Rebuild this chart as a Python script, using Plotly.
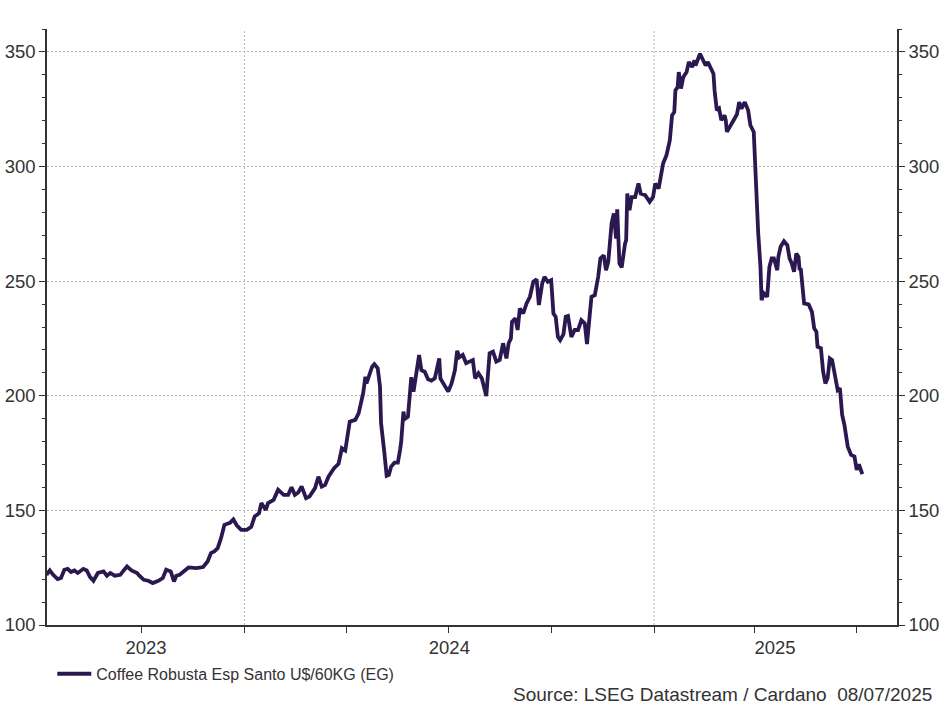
import plotly.graph_objects as go

# ---- data ----
D2023 = ["2023-07-08", "2023-07-11", "2023-07-14", "2023-07-18", "2023-07-21", "2023-07-24", "2023-07-27",
         "2023-07-30", "2023-08-02", "2023-08-05", "2023-08-10", "2023-08-13", "2023-08-16", "2023-08-19",
         "2023-08-23", "2023-08-28", "2023-08-31", "2023-09-03", "2023-09-07", "2023-09-12", "2023-09-15",
         "2023-09-18", "2023-09-22", "2023-09-27", "2023-09-29", "2023-10-03", "2023-10-07", "2023-10-11",
         "2023-10-16", "2023-10-20", "2023-10-23", "2023-10-27", "2023-10-30", "2023-11-01", "2023-11-04",
         "2023-11-09", "2023-11-12", "2023-11-19", "2023-11-25", "2023-11-29", "2023-12-02", "2023-12-05",
         "2023-12-08", "2023-12-11", "2023-12-14", "2023-12-19", "2023-12-22", "2023-12-25", "2023-12-29"]
P2023 = [121.9, 123.8, 121.9, 120.0, 120.5, 124.1, 124.5, 123.1, 123.8, 122.7, 124.5, 123.8, 120.9, 119.3,
         122.7, 123.4, 121.5, 122.7, 121.5, 121.9, 123.8, 125.5, 123.8, 122.7, 121.5, 119.7, 119.3, 118.3,
         119.3, 120.5, 124.1, 123.4, 119.0, 121.5, 121.9, 124.1, 125.1, 124.8, 125.3, 127.7, 131.4, 132.1,
         133.5, 137.9, 143.7, 144.6, 146.1, 143.5, 141.5]

D2024 = ["2024-01-03", "2024-01-07", "2024-01-10", "2024-01-14", "2024-01-16", "2024-01-20", "2024-01-22",
         "2024-01-27", "2024-01-31", "2024-02-05", "2024-02-09", "2024-02-12", "2024-02-15", "2024-02-18",
         "2024-02-21", "2024-02-25", "2024-02-28", "2024-03-04", "2024-03-07", "2024-03-10", "2024-03-13",
         "2024-03-16", "2024-03-21", "2024-03-25", "2024-03-28", "2024-03-31", "2024-04-04", "2024-04-09",
         "2024-04-12", "2024-04-15", "2024-04-16", "2024-04-18", "2024-04-19", "2024-04-21", "2024-04-24",
         "2024-04-26", "2024-04-29", "2024-05-01", "2024-05-02", "2024-05-05", "2024-05-07", "2024-05-09",
         "2024-05-11", "2024-05-14", "2024-05-17", "2024-05-19", "2024-05-20", "2024-05-22", "2024-05-23",
         "2024-05-26", "2024-05-28", "2024-05-29", "2024-05-31", "2024-06-03", "2024-06-05", "2024-06-07",
         "2024-06-10", "2024-06-13", "2024-06-16", "2024-06-19", "2024-06-21", "2024-06-23", "2024-06-24",
         "2024-06-27", "2024-07-01", "2024-07-04", "2024-07-07", "2024-07-09", "2024-07-11", "2024-07-14",
         "2024-07-17", "2024-07-20", "2024-07-23", "2024-07-25", "2024-07-28", "2024-07-31", "2024-08-04",
         "2024-08-07", "2024-08-10", "2024-08-13", "2024-08-16", "2024-08-19", "2024-08-22", "2024-08-24",
         "2024-08-26", "2024-08-27", "2024-08-30", "2024-09-01", "2024-09-03", "2024-09-06", "2024-09-09",
         "2024-09-12", "2024-09-15", "2024-09-18", "2024-09-20", "2024-09-23", "2024-09-25", "2024-09-28",
         "2024-10-01", "2024-10-03", "2024-10-05", "2024-10-07", "2024-10-09", "2024-10-12", "2024-10-14",
         "2024-10-16", "2024-10-19", "2024-10-22", "2024-10-25", "2024-10-28", "2024-10-31", "2024-11-02",
         "2024-11-04", "2024-11-06", "2024-11-09", "2024-11-12", "2024-11-14", "2024-11-17", "2024-11-19",
         "2024-11-21", "2024-11-24", "2024-11-26", "2024-11-28", "2024-11-29", "2024-12-01", "2024-12-03",
         "2024-12-06", "2024-12-07", "2024-12-08", "2024-12-10", "2024-12-12", "2024-12-15", "2024-12-18",
         "2024-12-20", "2024-12-24", "2024-12-28", "2024-12-31"]
P2024 = [141.5, 142.8, 147.3, 148.8, 153.2, 150.2, 153.2, 154.6, 159.0, 156.8, 156.8, 160.1, 156.8, 157.8,
         160.4, 155.3, 156.0, 159.7, 164.7, 160.4, 161.1, 164.7, 168.4, 170.3, 177.1, 176.1, 188.7, 189.5,
         192.4, 199.6, 201.1, 208.3, 205.4, 208.3, 212.7, 213.8, 212.0, 204.3, 188.0, 174.9, 165.1, 165.5,
         169.1, 170.8, 170.8, 176.4, 180.0, 193.1, 189.8, 190.9, 201.8, 208.1, 201.8, 210.5, 217.8, 211.2,
         210.5, 207.2, 206.6, 207.6, 211.2, 216.3, 207.6, 205.4, 201.8, 205.4, 211.2, 219.6, 216.8, 217.8,
         214.2, 214.9, 215.6, 207.6, 209.8, 207.6, 199.9, 218.5, 219.2, 214.9, 215.6, 222.9, 216.3, 222.9,
         225.0, 232.3, 233.8, 228.7, 238.1, 235.9, 240.3, 243.2, 249.7, 250.8, 239.6, 249.0, 251.9, 249.7,
         250.4, 235.9, 234.5, 225.7, 224.3, 226.9, 234.5, 234.8, 225.7, 228.7, 228.7, 233.0, 231.6, 222.6,
         234.5, 243.2, 243.9, 251.9, 259.9, 261.3, 254.8, 258.4, 275.2, 279.5, 268.6, 281.3, 257.7, 256.0,
         266.4, 267.9, 288.2, 281.0, 286.7, 286.7, 292.6, 288.2, 287.5, 284.6, 286.7]

D2025 = ["2025-01-02", "2025-01-05", "2025-01-07", "2025-01-09", "2025-01-12", "2025-01-15", "2025-01-17",
         "2025-01-19", "2025-01-20", "2025-01-22", "2025-01-23", "2025-01-25", "2025-01-27", "2025-01-30",
         "2025-02-01", "2025-02-04", "2025-02-06", "2025-02-07", "2025-02-11", "2025-02-14", "2025-02-16",
         "2025-02-18", "2025-02-21", "2025-02-23", "2025-02-24", "2025-02-26", "2025-02-28", "2025-03-02",
         "2025-03-05", "2025-03-06", "2025-03-07", "2025-03-10", "2025-03-13", "2025-03-16", "2025-03-18",
         "2025-03-20", "2025-03-23", "2025-03-26", "2025-03-28", "2025-03-31", "2025-04-01", "2025-04-03",
         "2025-04-04", "2025-04-06", "2025-04-07", "2025-04-09", "2025-04-12", "2025-04-14", "2025-04-16",
         "2025-04-18", "2025-04-21", "2025-04-22", "2025-04-24", "2025-04-27", "2025-04-30", "2025-05-02",
         "2025-05-04", "2025-05-06", "2025-05-08", "2025-05-10", "2025-05-11", "2025-05-12", "2025-05-15",
         "2025-05-19", "2025-05-22", "2025-05-24", "2025-05-26", "2025-05-27", "2025-05-30", "2025-06-01",
         "2025-06-03", "2025-06-05", "2025-06-07", "2025-06-09", "2025-06-12", "2025-06-14", "2025-06-16",
         "2025-06-18", "2025-06-20", "2025-06-21", "2025-06-23", "2025-06-26", "2025-06-29", "2025-07-01",
         "2025-07-03", "2025-07-06"]
P2025 = [292.6, 290.4, 295.5, 301.3, 304.9, 311.4, 322.3, 323.8, 333.2, 334.7, 341.2, 334.0, 339.0, 341.2,
         345.6, 343.4, 346.3, 344.1, 349.2, 346.3, 344.1, 345.6, 342.7, 340.5, 333.2, 324.5, 325.3, 320.2,
         322.3, 320.2, 315.1, 318.0, 320.2, 322.8, 328.1, 325.3, 328.1, 324.5, 318.0, 315.1, 302.7, 285.3,
         270.8, 256.2, 241.7, 244.7, 243.2, 256.2, 259.9, 259.9, 254.8, 260.6, 265.0, 267.4, 265.7, 259.9,
         257.7, 254.1, 262.1, 260.6, 254.8, 255.6, 240.3, 239.9, 236.6, 229.4, 227.9, 221.4, 220.7, 210.5,
         205.4, 207.6, 216.3, 215.6, 208.3, 202.5, 203.3, 191.6, 187.3, 183.7, 177.8, 174.2, 173.5, 167.7,
         170.1, 165.8]

SERIES_NAME = "Coffee Robusta Esp Santo U$/60KG (EG)"
X_RANGE = ["2023-07-08 12:00", "2025-08-06"]
Y_RANGE = [100, 360]
Y_TICKS = [100, 150, 200, 250, 300, 350]
YEAR_LABELS = ["2023", "2024", "2025"]
YEAR_LABEL_POS = ["2023-10-05", "2024-07-02", "2025-04-19"]
YEAR_STARTS = ["2024-01-01", "2025-01-01"]
QUARTER_STARTS = ["2023-10-01", "2024-01-01", "2024-04-01", "2024-07-01", "2024-10-01",
                  "2025-01-01", "2025-04-01", "2025-07-01"]
SOURCE_TEXT = "Source: LSEG Datastream / Cardano \u00a008/07/2025"

dates = D2023 + D2024 + D2025
prices = P2023 + P2024 + P2025

FONT = "Arial, 'Liberation Sans', sans-serif"
TXT = "#333333"
AX = "#333333"
GRID = "#b8b8b8"
LINE = "#2B1850"

fig = go.Figure()
fig.add_trace(go.Scatter(x=dates, y=prices, mode="lines", name=SERIES_NAME,
                         line=dict(color=LINE, width=3.8)))
# helper trace so the right-hand axis renders
fig.add_trace(go.Scatter(x=dates[:1], y=prices[:1], mode="lines", yaxis="y2",
                         showlegend=False, hoverinfo="skip", line=dict(width=0, color=LINE)))

yaxis_common = dict(
    range=Y_RANGE, tickvals=Y_TICKS, ticks="outside", ticklen=6, tickwidth=1.2, tickcolor=AX,
    showline=True, linecolor=AX, linewidth=1.5, zeroline=False, automargin=False,
    tickfont=dict(size=18.5, color=TXT, family=FONT),
    minor=dict(dtick=10, tick0=100, ticks="outside", ticklen=3, tickwidth=1.2, tickcolor=AX, showgrid=False),
)

fig.update_layout(
    width=945, height=706,
    margin=dict(l=47, r=48, t=29, b=81, autoexpand=False),
    plot_bgcolor="white", paper_bgcolor="white",
    font=dict(family=FONT, color=TXT),
    showlegend=True,
    legend=dict(orientation="h", x=0.0062, xanchor="left", y=-0.082, yanchor="middle",
                itemwidth=34,
                font=dict(size=16, color=TXT, family=FONT), bgcolor="rgba(0,0,0,0)"),
    xaxis=dict(
        type="date", range=X_RANGE, tickvals=YEAR_LABEL_POS, ticktext=YEAR_LABELS,
        ticks="", showgrid=False, zeroline=False, showline=True, linecolor=AX, linewidth=1.5,
        automargin=False,
        tickfont=dict(size=18.5, color=TXT, family=FONT), ticklabelstandoff=5,
        minor=dict(tickvals=QUARTER_STARTS, ticks="outside", ticklen=6, tickwidth=1.2,
                   tickcolor=AX, showgrid=False),
    ),
    yaxis=dict(**yaxis_common, showgrid=True, gridcolor=GRID, griddash="2px,2px", gridwidth=1),
    yaxis2=dict(**yaxis_common, overlaying="y", side="right", matches="y", showgrid=False),
)

for ys in YEAR_STARTS:
    fig.add_shape(type="line", xref="x", yref="paper", x0=ys, x1=ys, y0=0, y1=1,
                  line=dict(color=GRID, width=1, dash="2px,2px"), layer="below")

fig.add_annotation(text=SOURCE_TEXT, xref="paper", yref="paper", x=1.0435, y=-0.137,
                   xanchor="right", yanchor="bottom", showarrow=False,
                   font=dict(size=19, color=TXT, family=FONT))

fig.write_html("out.html")
